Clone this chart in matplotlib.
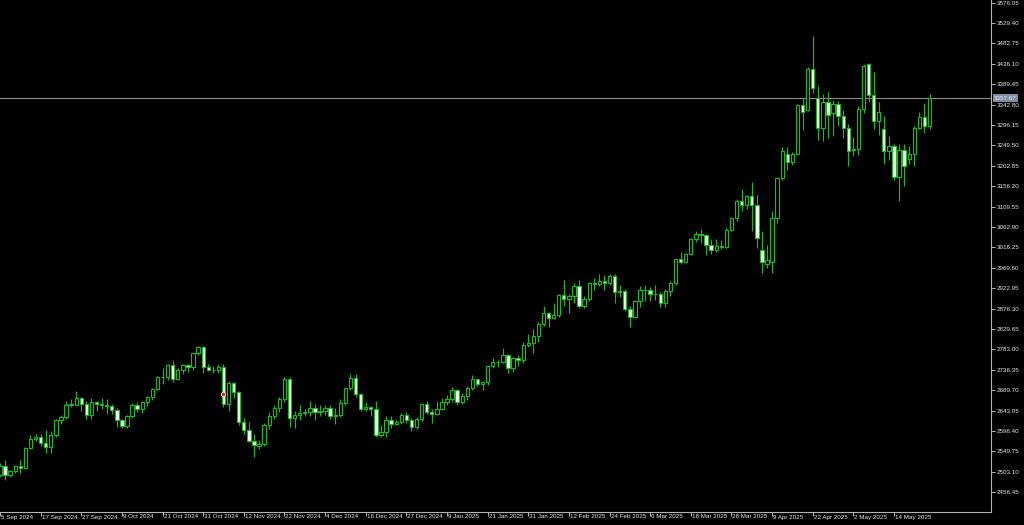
import numpy as np
import pandas as pd
import matplotlib
matplotlib.use('Agg')
import matplotlib.pyplot as plt
import matplotlib.transforms as mtransforms

plt.rcParams['font.family'] = ['Liberation Sans', 'DejaVu Sans']

# Daily XAUUSD bars, 5 Sep 2024 .. 23 May 2025 (broker has no bar on these days)
holidays = ['2024-12-25', '2025-01-01', '2025-04-18']
dates = pd.bdate_range('2024-09-05', '2025-05-23')
dates = dates[~dates.isin(pd.to_datetime(holidays))]

opens = [2495, 2517, 2497, 2506, 2516, 2512, 2558, 2578, 2582, 2569, 2559, 2587, 2622, 2628, 2657, 2657, 2672, 2658,
         2634, 2662, 2658, 2656, 2653, 2644, 2622, 2608, 2630, 2657, 2648, 2662, 2674, 2693, 2721, 2720, 2748, 2715,
         2736, 2747, 2743, 2774, 2788, 2743, 2736, 2736, 2743, 2659, 2707, 2685, 2618, 2598, 2573, 2562, 2567, 2611,
         2631, 2650, 2670, 2715, 2626, 2633, 2637, 2639, 2650, 2640, 2643, 2650, 2632, 2633, 2660, 2694, 2718, 2681,
         2648, 2652, 2646, 2587, 2595, 2622, 2612, 2617, 2634, 2621, 2606, 2624, 2658, 2640, 2635, 2648, 2662, 2669,
         2690, 2662, 2677, 2696, 2715, 2703, 2708, 2745, 2755, 2754, 2770, 2740, 2763, 2760, 2794, 2798, 2815, 2842,
         2867, 2856, 2861, 2907, 2898, 2905, 2928, 2882, 2898, 2935, 2933, 2939, 2936, 2951, 2915, 2916, 2876, 2857,
         2893, 2918, 2920, 2910, 2910, 2889, 2916, 2934, 2989, 2984, 3001, 3035, 3048, 3044, 3023, 3011, 3020, 3018,
         3057, 3084, 3123, 3113, 3134, 3114, 3011, 2978, 2984, 3083, 3176, 3230, 3211, 3230, 3342, 3330, 3424, 3357,
         3290, 3350, 3324, 3344, 3316, 3289, 3240, 3241, 3334, 3436, 3365, 3306, 3287, 3236, 3249, 3178, 3240, 3218,
         3230, 3290, 3315, 3295]
highs = [2524, 2531, 2507, 2517, 2530, 2560, 2587, 2590, 2589, 2600, 2596, 2625, 2633, 2665, 2670, 2687, 2674, 2666,
         2673, 2665, 2672, 2670, 2659, 2649, 2624, 2634, 2661, 2662, 2665, 2676, 2696, 2722, 2740, 2749, 2758, 2740,
         2749, 2749, 2775, 2790, 2790, 2750, 2745, 2750, 2749, 2710, 2709, 2687, 2626, 2618, 2589, 2577, 2614, 2639,
         2656, 2674, 2721, 2721, 2643, 2656, 2647, 2665, 2658, 2657, 2657, 2655, 2649, 2669, 2696, 2726, 2726, 2684,
         2664, 2654, 2665, 2611, 2632, 2630, 2622, 2638, 2639, 2626, 2629, 2660, 2665, 2646, 2665, 2671, 2679, 2697,
         2693, 2684, 2699, 2724, 2716, 2711, 2746, 2763, 2758, 2786, 2772, 2765, 2770, 2799, 2819, 2830, 2845, 2882,
         2869, 2889, 2911, 2943, 2909, 2934, 2942, 2905, 2938, 2947, 2955, 2954, 2956, 2955, 2930, 2921, 2882, 2897,
         2928, 2930, 2927, 2930, 2915, 2921, 2940, 2990, 3005, 3004, 3038, 3055, 3058, 3047, 3036, 3036, 3033, 3060,
         3087, 3128, 3149, 3137, 3167, 3136, 3055, 3023, 3099, 3176, 3247, 3247, 3235, 3344, 3358, 3430, 3501, 3386,
         3368, 3371, 3353, 3352, 3330, 3299, 3270, 3340, 3435, 3438, 3417, 3348, 3316, 3272, 3252, 3252, 3254, 3249,
         3295, 3325, 3347, 3368]
lows = [2491, 2485, 2491, 2500, 2500, 2510, 2555, 2574, 2562, 2547, 2547, 2583, 2613, 2624, 2651, 2655, 2642, 2624,
        2624, 2643, 2646, 2635, 2636, 2606, 2604, 2603, 2627, 2640, 2638, 2653, 2667, 2690, 2703, 2714, 2709, 2713,
        2728, 2731, 2737, 2770, 2730, 2733, 2729, 2730, 2652, 2643, 2672, 2610, 2589, 2572, 2537, 2555, 2563, 2601,
        2623, 2641, 2664, 2605, 2603, 2622, 2631, 2632, 2621, 2631, 2633, 2625, 2613, 2629, 2655, 2690, 2675, 2643,
        2642, 2632, 2583, 2583, 2584, 2603, 2610, 2613, 2616, 2596, 2602, 2620, 2635, 2614, 2633, 2645, 2656, 2664,
        2656, 2659, 2668, 2691, 2699, 2691, 2702, 2740, 2742, 2751, 2730, 2731, 2745, 2751, 2788, 2776, 2801, 2836,
        2834, 2853, 2857, 2883, 2867, 2889, 2877, 2878, 2895, 2920, 2929, 2918, 2930, 2889, 2904, 2870, 2834, 2856,
        2880, 2893, 2893, 2896, 2880, 2881, 2906, 2930, 2979, 2981, 2999, 3028, 3026, 2999, 3002, 3006, 3012, 3014,
        3054, 3076, 3100, 3105, 3054, 3015, 2957, 2970, 2957, 3072, 3171, 3194, 3205, 3229, 3286, 3328, 3370, 3261,
        3260, 3267, 3271, 3293, 3267, 3203, 3225, 3228, 3324, 3350, 3287, 3274, 3208, 3217, 3170, 3122, 3156, 3208,
        3203, 3287, 3279, 3287]
closes = [2517, 2497, 2506, 2516, 2512, 2558, 2578, 2582, 2569, 2559, 2587, 2622, 2628, 2657, 2657, 2672, 2658, 2634,
          2662, 2658, 2656, 2653, 2644, 2622, 2608, 2630, 2657, 2648, 2662, 2674, 2693, 2721, 2720, 2748, 2715, 2736,
          2747, 2743, 2774, 2788, 2743, 2736, 2736, 2743, 2659, 2707, 2685, 2618, 2598, 2573, 2565, 2567, 2611, 2631,
          2650, 2670, 2715, 2626, 2633, 2637, 2639, 2650, 2640, 2643, 2650, 2632, 2633, 2660, 2694, 2718, 2681, 2648,
          2652, 2646, 2587, 2595, 2622, 2612, 2617, 2634, 2621, 2606, 2624, 2658, 2640, 2635, 2648, 2662, 2669, 2690,
          2662, 2677, 2696, 2715, 2703, 2708, 2745, 2755, 2754, 2770, 2740, 2763, 2760, 2794, 2798, 2815, 2842, 2867,
          2856, 2861, 2907, 2898, 2905, 2928, 2882, 2898, 2935, 2933, 2939, 2936, 2951, 2915, 2916, 2876, 2857, 2893,
          2918, 2920, 2910, 2910, 2889, 2916, 2934, 2989, 2984, 3001, 3035, 3048, 3044, 3023, 3011, 3020, 3018, 3057,
          3084, 3123, 3113, 3134, 3114, 3037, 2984, 2988, 3083, 3176, 3237, 3211, 3230, 3342, 3327, 3424, 3381, 3289,
          3350, 3320, 3344, 3318, 3289, 3238, 3241, 3334, 3431, 3365, 3306, 3325, 3236, 3249, 3178, 3240, 3203, 3230,
          3290, 3315, 3295, 3357.67]

marker_bar = '2024-11-06'
marker_price = 2681

# axis scale values as the terminal prints them
price_ticks = np.round(2456.45 + 46.65 * np.arange(25), 2)

GREEN = '#22b422'
AXIS = '#b4b4b4'
TXT = '#e6e6e6'
FS = 4.5

o = np.array(opens, dtype=float)
h = np.array(highs, dtype=float)
l = np.array(lows, dtype=float)
c = np.array(closes, dtype=float)
x = np.arange(len(dates))
up = c >= o

fig = plt.figure(figsize=(10.24, 5.25), dpi=100, facecolor='black')
ax = fig.add_axes([0, 13 / 525, 991 / 1024, 512 / 525], facecolor='black')

ax.vlines(x, l, h, color=GREEN, lw=0.85, zorder=2)
body = np.maximum(np.abs(c - o), 0.6)
ax.bar(x, body, bottom=np.minimum(o, c), width=0.66,
       color=np.where(up, 'black', '#f0fff0'), edgecolor=GREEN, linewidth=0.85, zorder=3)

# current price line + price tag
ax.axhline(c[-1], color='#8a8a8a', lw=0.8, zorder=1)
ax.text(1.003, c[-1], f'{c[-1]:.2f}', transform=ax.get_yaxis_transform(), fontsize=FS,
        color='#e8eef8', va='center', ha='left', clip_on=False, zorder=6,
        bbox=dict(boxstyle='square,pad=0.2', fc='#7d8ca3', ec='none'))

mi = dates.get_loc(pd.Timestamp(marker_bar))
ax.plot(mi, marker_price, marker='o', ms=3.2, mfc='#e02020', mec='#f0f0f0', mew=0.6, zorder=5)

ax.set_xlim(0.667, 195.1)
ax.set_ylim(2411.4, 3582.2)

for s in ['top', 'left']:
    ax.spines[s].set_visible(False)
for s in ['right', 'bottom']:
    ax.spines[s].set_color(AXIS)
    ax.spines[s].set_linewidth(0.8)

ax.yaxis.tick_right()
ax.set_yticks(price_ticks, [f'{v:.2f}' for v in price_ticks])
ax.tick_params(axis='y', colors=AXIS, length=3, width=0.7, pad=1, labelsize=FS, labelcolor=TXT)

# date scale: one label every 8 bars, text to the right of its tick
lab_idx = x[::8]
ax.set_xticks(lab_idx, [''] * len(lab_idx))
ax.tick_params(axis='x', colors=AXIS, length=3, width=0.7)
trans = mtransforms.blended_transform_factory(ax.transData, ax.transAxes)
offs = mtransforms.offset_copy(trans, fig=fig, x=1.0, y=-2.5, units='dots')
for i in lab_idx:
    d = dates[i]
    ax.text(i, 0, f'{d.day} {d.strftime("%b %Y")}', transform=offs, fontsize=FS, color=TXT,
            ha='left', va='top', clip_on=False)

fig.savefig('out.png', dpi=100, facecolor='black')
